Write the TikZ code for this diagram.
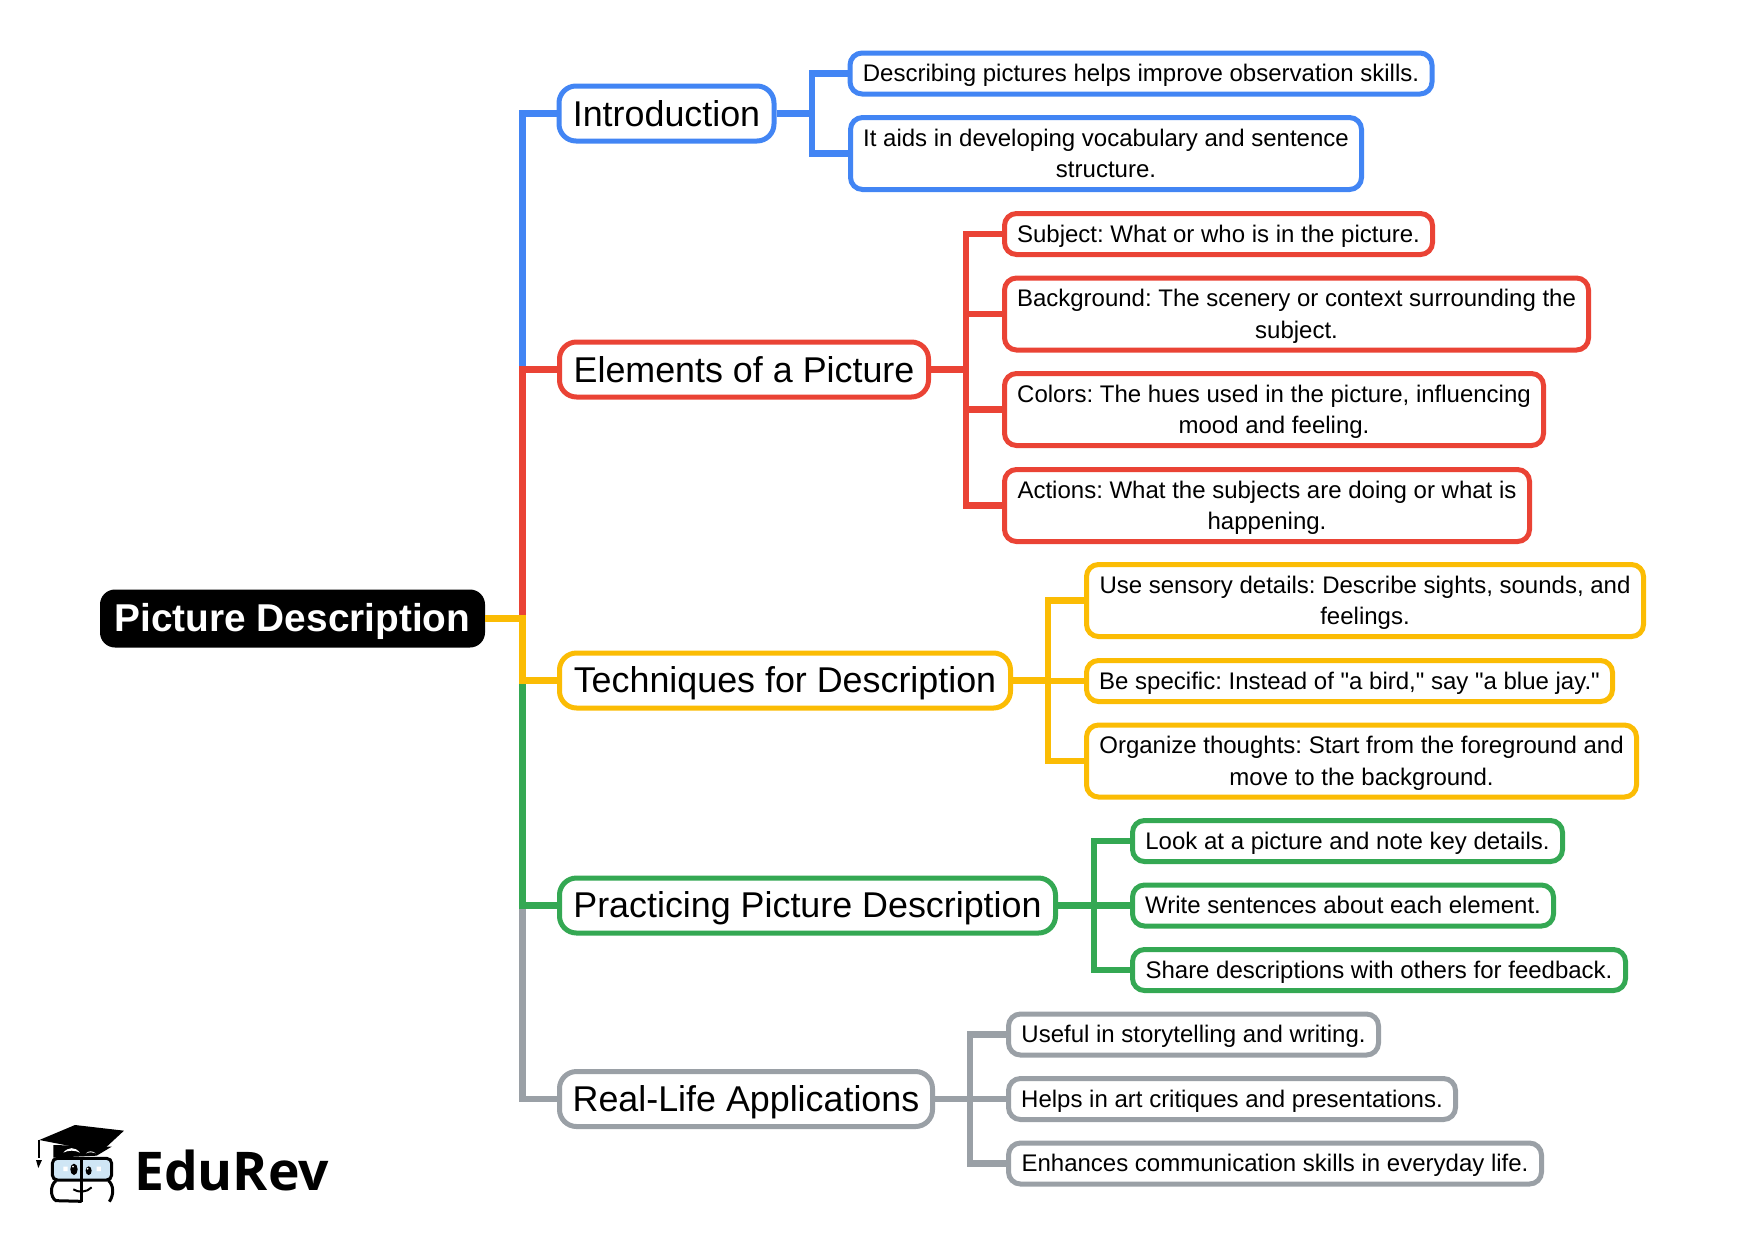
\documentclass[tikz,border=0pt]{standalone}
\usepackage{fontspec}
\newfontfamily\mapface{Liberation Sans}
\newfontfamily\logofont{Open Sans}
\definecolor{cblue}{HTML}{4285F4}
\definecolor{cred}{HTML}{EA4335}
\definecolor{cyellow}{HTML}{FBBC04}
\definecolor{cgreen}{HTML}{34A853}
\definecolor{cgray}{HTML}{9AA0A6}
\definecolor{lens}{HTML}{CFE6F5}
\newcommand{\bigtop}{\rule{0pt}{32pt}}
\newcommand{\bigbot}{\rule[-7pt]{0pt}{7pt}}
\newcommand{\smalltop}{\rule{0pt}{22pt}}
\newcommand{\smallbot}{\rule[-5.6pt]{0pt}{5.6pt}}
\newcommand{\firstline}{\rule{0pt}{23pt}}
\tikzset{
  rootbox/.style={fill=black,text=white,rounded corners=15pt,font=\mapface\frenchspacing\fontsize{38.8}{44}\selectfont\bfseries,inner sep=0pt,line width=0pt,
    execute at begin node=\rule{0pt}{35pt},execute at end node=\bigbot},
  mainbox/.style={draw=#1,fill=white,line width=5pt,rounded corners=17pt,font=\mapface\frenchspacing\fontsize{35.85}{42}\selectfont,inner sep=0pt,align=center,
    execute at begin node=\bigtop,execute at end node=\bigbot},
  leafbox/.style={draw=#1,fill=white,line width=5pt,rounded corners=12pt,font=\mapface\frenchspacing\fontsize{24}{31.5}\selectfont,inner sep=0pt,align=center,
    execute at begin node=\smalltop,execute at end node=\smallbot},
  link/.style={draw=#1,line width=6.5pt,line join=miter,line cap=butt},
  sublink/.style={draw=#1,line width=6.5pt,line join=miter,line cap=butt}
}
\begin{document}
\begin{tikzpicture}[x=1pt,y=-1pt]
\useasboundingbox (0,0) rectangle (1747,1237);
% root
\node[rootbox,minimum width=385pt,minimum height=58pt] (root) at (292.5,618.5) {Picture Description};
\coordinate (tk) at (522.5,618.5);
% main
\node[mainbox=cblue,minimum width=215pt,minimum height=55pt] (intro) at (666.5,113.5) {Introduction};
\node[mainbox=cred,minimum width=369pt,minimum height=55pt] (elem) at (744,369.5) {Elements of a Picture};
\node[mainbox=cyellow,minimum width=451pt,minimum height=55pt] (tech) at (785,680.5) {Techniques for Description};
\node[mainbox=cgreen,minimum width=496pt,minimum height=55pt] (prac) at (807.5,905.5) {Practicing Picture Description};
\node[mainbox=cgray,minimum width=373pt,minimum height=55pt] (real) at (746,1099) {Real-Life Applications};
% leaves intro
\node[leafbox=cblue,minimum width=582pt,minimum height=41pt] (i1) at (1141,73.5) {Describing pictures helps improve observation skills.};
\node[leafbox=cblue,minimum width=511pt,minimum height=72pt] (i2) at (1106,153.5) {\firstline It aids in developing vocabulary and sentence\\structure.};
% leaves elements
\node[leafbox=cred,minimum width=428pt,minimum height=41pt] (e1) at (1218.5,234) {Subject: What or who is in the picture.};
\node[leafbox=cred,minimum width=584pt,minimum height=72pt] (e2) at (1296.5,314) {\firstline Background: The scenery or context surrounding the\\subject.};
\node[leafbox=cred,minimum width=539pt,minimum height=72pt] (e3) at (1274,409.5) {\firstline Colors: The hues used in the picture, influencing\\mood and feeling.};
\node[leafbox=cred,minimum width=525pt,minimum height=72pt] (e4) at (1267,505.5) {\firstline Actions: What the subjects are doing or what is\\happening.};
% leaves techniques
\node[leafbox=cyellow,minimum width=557pt,minimum height=72pt] (t1) at (1365,600.5) {\firstline Use sensory details: Describe sights, sounds, and\\feelings.};
\node[leafbox=cyellow,minimum width=526pt,minimum height=41pt] (t2) at (1349.5,681) {Be specific: Instead of "a bird," say "a blue jay."};
\node[leafbox=cyellow,minimum width=550pt,minimum height=72pt] (t3) at (1361.5,761) {\firstline Organize thoughts: Start from the foreground and\\move to the background.};
% leaves practicing
\node[leafbox=cgreen,minimum width=430pt,minimum height=41pt] (p1) at (1347.5,841) {Look at a picture and note key details.};
\node[leafbox=cgreen,minimum width=421pt,minimum height=41pt] (p2) at (1343,905.5) {Write sentences about each element.};
\node[leafbox=cgreen,minimum width=493pt,minimum height=41pt] (p3) at (1379,970) {Share descriptions with others for feedback.};
% leaves real-life
\node[leafbox=cgray,minimum width=370pt,minimum height=41pt] (r1) at (1193.5,1034.5) {Useful in storytelling and writing.};
\node[leafbox=cgray,minimum width=447pt,minimum height=41pt] (r2) at (1232,1099) {Helps in art critiques and presentations.};
\node[leafbox=cgray,minimum width=533pt,minimum height=41pt] (r3) at (1275,1163.5) {Enhances communication skills in everyday life.};
% trunk
\draw[link=cgray] (root.east) -- (tk) |- (real.west);
\draw[link=cgreen] (root.east) -- (tk) |- (prac.west);
\draw[link=cblue] (root.east) -- (tk) |- (intro.west);
\draw[link=cred] (root.east) -- (tk) |- (elem.west);
\draw[link=cyellow] (root.east) -- (tk) |- (tech.west);
% branches
\coordinate (ji) at (812,113.5);
\coordinate (je) at (966,369.5);
\coordinate (jt) at (1048,680.5);
\coordinate (jp) at (1094,905.5);
\coordinate (jr) at (970,1099);
\foreach \p/\j/\c/\l in {intro/ji/cblue/i1,intro/ji/cblue/i2,
  elem/je/cred/e1,elem/je/cred/e2,elem/je/cred/e3,elem/je/cred/e4,
  tech/jt/cyellow/t1,tech/jt/cyellow/t2,tech/jt/cyellow/t3,
  prac/jp/cgreen/p1,prac/jp/cgreen/p2,prac/jp/cgreen/p3,
  real/jr/cgray/r1,real/jr/cgray/r2,real/jr/cgray/r3}{
  \draw[sublink=\c] (\p.east) -- (\j) |- (\l.west);
}
% logo
\begin{scope}[shift={(0,1090)},x=0.3333pt,y=-0.3333pt]
  \fill[lens] (158,208) rectangle (332,268);
  \draw[line width=3pt,rounded corners=5pt] (157,205) rectangle (335,270);
  \draw[line width=3pt] (168,272) .. controls (150,285) and (150,322) .. (168,332) -- (245,334);
  \draw[line width=3pt] (325,272) .. controls (342,285) and (342,315) .. (328,335);
  \draw[line width=3pt] (245,200) -- (245,335);
  \draw[line width=2pt] (220,298) .. controls (235,308) and (260,308) .. (275,292);
  \fill (222,238) ellipse (11 and 17);
  \fill (266,242) ellipse (9 and 13);
  \fill[white] (219,230) circle (3) (263,236) circle (3);
  \fill[white] (190,230) rectangle (203,243) (290,230) rectangle (303,243);
  \fill (160,165) -- (160,203) -- (290,197) -- (335,170) -- cycle;
  \fill[white] (190,188) .. controls (205,170) and (225,170) .. (240,188) .. controls (225,180) and (205,180) .. (190,188) -- cycle;
  \fill[white] (258,190) .. controls (265,182) and (278,182) .. (287,190) .. controls (278,186) and (265,186) .. (258,190) -- cycle;
  \fill (118,150) -- (225,105) -- (372,122) -- (303,186) -- cycle;
  \draw[line width=2pt] (118,150) -- (118,205);
  \fill (108,210) -- (126,210) -- (115,234) -- cycle;
\end{scope}
\node[anchor=base west,inner sep=0pt,font=\logofont\bfseries\fontsize{53.4}{60}\selectfont] (logotext) at (134,1190) {EduRev};
\end{tikzpicture}
\end{document}
